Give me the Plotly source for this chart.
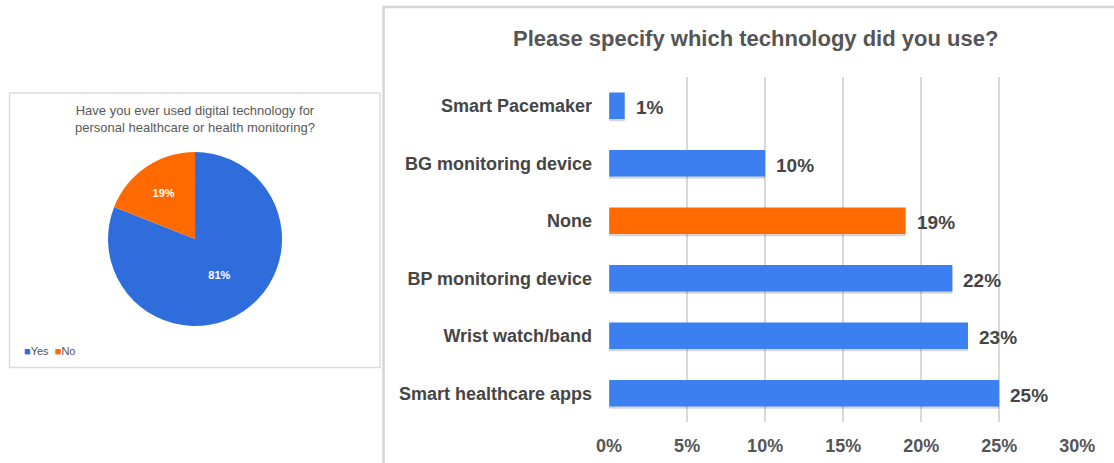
import plotly.graph_objects as go

# pie: overall use of digital health tech
pie_labels = ["Yes", "No"]
pie_values = [81, 19]
pie_colors = ["#2f6ddd", "#ff6a00"]

# bars: which technology (bottom to top)
tech_names = ["Smart healthcare apps", "Wrist watch/band", "BP monitoring device",
              "None", "BG monitoring device", "Smart Pacemaker"]
tech_share = [25, 23, 22, 19, 10, 1]
bar_colors = ["#3b7ff0", "#3b7ff0", "#3b7ff0", "#ff6a00", "#3b7ff0", "#3b7ff0"]
x_ticks = [0, 5, 10, 15, 20, 25, 30]

W, H = 1114, 463
FONT = "Liberation Sans, Arial, sans-serif"


# the snapshot came out a bit narrower than asked, so map target pixels back
def px(x):
    return (x - 13) / 0.972 / W


def py(y):
    return 1 - y / H


fig = go.Figure()

fig.add_trace(go.Pie(
    labels=pie_labels, values=pie_values,
    marker=dict(colors=pie_colors, line=dict(width=0)),
    sort=False, direction="clockwise", rotation=0,
    textinfo="percent", texttemplate="%{percent:.0%}",
    textfont=dict(family=FONT, size=11, color="white", weight="bold"),
    insidetextorientation="horizontal",
    domain=dict(x=[px(106), px(284)], y=[py(326), py(152)]),
    hoverinfo="label+percent", showlegend=False,
))

# soft shadow under each bar
fig.add_trace(go.Bar(
    x=tech_share, y=tech_names, orientation="h",
    marker=dict(color="rgba(0,0,0,0.16)", line=dict(width=0)),
    width=0.46, offset=-0.27,
    hoverinfo="skip", showlegend=False,
))
fig.add_trace(go.Bar(
    x=tech_share, y=tech_names, orientation="h",
    marker=dict(color=bar_colors, line=dict(width=0)),
    width=0.46, offset=-0.23,
    showlegend=False,
))

for name, v in zip(tech_names, tech_share):
    fig.add_annotation(
        x=v, y=name, xref="x", yref="y", text=f"{v}%", showarrow=False,
        xanchor="left", xshift=9, yshift=-2,
        font=dict(family=FONT, size=19, color="#454545", weight="bold"),
    )

fig.update_layout(
    width=W, height=H,
    margin=dict(l=0, r=0, t=0, b=0),
    paper_bgcolor="white", plot_bgcolor="white",
    font=dict(family=FONT),
    barmode="overlay",
    xaxis=dict(
        domain=[px(609), px(1077)], range=[0, 30],
        tickvals=x_ticks, ticktext=[f"{t}%" for t in x_ticks],
        showgrid=True, gridcolor="#d9d9d9", gridwidth=1.5,
        zeroline=False, showline=False,
        tickfont=dict(size=18, color="#555555", weight="bold"),
        ticklabelstandoff=11,
    ),
    yaxis=dict(
        domain=[py(422), py(77)], range=[-0.5, 5.5],
        showgrid=False, zeroline=False, showline=False,
        tickfont=dict(size=18, color="#454545", weight="bold"),
        ticklabelstandoff=16,
    ),
    showlegend=False,
)

# panel frames
fig.add_shape(type="rect", xref="paper", yref="paper",
              x0=px(9.5), x1=px(380), y0=py(367.5), y1=py(93),
              line=dict(color="#dcdcdc", width=1.5), layer="below")
fig.add_shape(type="rect", xref="paper", yref="paper",
              x0=px(383.5), x1=1.02, y0=py(468), y1=py(7),
              line=dict(color="#d6d6d6", width=2.5), layer="below")

# titles
fig.add_annotation(
    xref="paper", yref="paper", x=px(195), y=py(101), xanchor="center", yanchor="top",
    text="Have you ever used digital technology for<br>personal healthcare or health monitoring?",
    showarrow=False, align="center",
    font=dict(family=FONT, size=13, color="#595959"),
)
fig.add_annotation(
    xref="paper", yref="paper", x=px(755), y=py(38), xanchor="center", yanchor="middle",
    text="Please specify which technology did you use?",
    showarrow=False,
    font=dict(family=FONT, size=22, color="#555555", weight="bold"),
)

# pie legend, drawn as text so the swatches sit tight against the labels
fig.add_annotation(
    xref="paper", yref="paper", x=px(22), y=py(351), xanchor="left", yanchor="middle",
    text=(f"<span style='color:{pie_colors[0]}'>■</span>{pie_labels[0]}  "
          f"<span style='color:{pie_colors[1]}'>■</span>{pie_labels[1]}"),
    showarrow=False,
    font=dict(family=FONT, size=11, color="#555555"),
)

fig.write_html("out.html", config={"displayModeBar": False},
               post_script="document.body.style.margin='0';")
